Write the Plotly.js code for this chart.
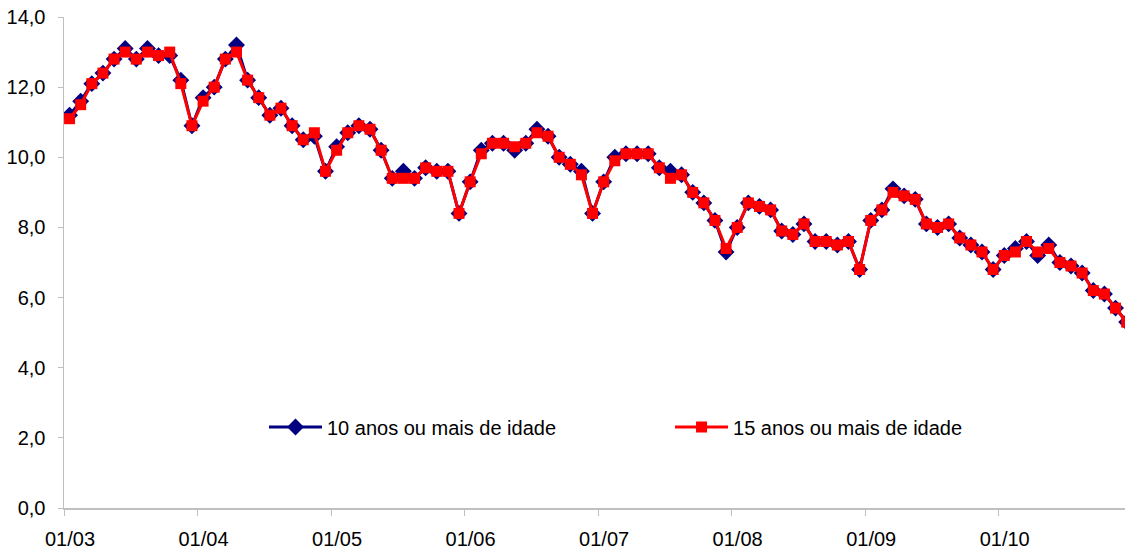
<!DOCTYPE html>
<html>
<head>
<meta charset="utf-8">
<script src="https://cdn.plot.ly/plotly-3.0.1.min.js"></script>
<style>
  html, body { margin: 0; padding: 0; background: #ffffff; }
  #chart { width: 1125px; height: 551px; }
</style>
</head>
<body>
<div id="chart"></div>
<script>
// Monthly series, Jan/2003 .. Dec/2010 (96 months)
const years = ['03', '04', '05', '06', '07', '08', '09', '10'];
const monthNums = ['01','02','03','04','05','06','07','08','09','10','11','12'];
const categories = [];
years.forEach(y => monthNums.forEach(m => categories.push(m + '/' + y)));

const tickLabels = ['01/03', '01/04', '01/05', '01/06', '01/07', '01/08', '01/09', '01/10'];

const series10 = [
  11.2, 11.6, 12.1, 12.4, 12.8, 13.1, 12.8, 13.1, 12.9, 12.9, 12.2, 10.9,
  11.7, 12.0, 12.8, 13.2, 12.2, 11.7, 11.2, 11.4, 10.9, 10.5, 10.6, 9.6,
  10.3, 10.7, 10.9, 10.8, 10.2, 9.4, 9.6, 9.4, 9.7, 9.6, 9.6, 8.4,
  9.3, 10.2, 10.4, 10.4, 10.2, 10.4, 10.8, 10.6, 10.0, 9.8, 9.6, 8.4,
  9.3, 10.0, 10.1, 10.1, 10.1, 9.7, 9.6, 9.5, 9.0, 8.7, 8.2, 7.3,
  8.0, 8.7, 8.6, 8.5, 7.9, 7.8, 8.1, 7.6, 7.6, 7.5, 7.6, 6.8,
  8.2, 8.5, 9.1, 8.9, 8.8, 8.1, 8.0, 8.1, 7.7, 7.5, 7.3, 6.8,
  7.2, 7.4, 7.6, 7.2, 7.5, 7.0, 6.9, 6.7, 6.2, 6.1, 5.7, 5.3
];

const series15 = [
  11.1, 11.5, 12.1, 12.4, 12.8, 13.0, 12.8, 13.0, 12.9, 13.0, 12.1, 10.9,
  11.6, 12.0, 12.8, 13.0, 12.2, 11.7, 11.2, 11.4, 10.9, 10.5, 10.7, 9.6,
  10.2, 10.7, 10.9, 10.8, 10.2, 9.4, 9.4, 9.4, 9.7, 9.6, 9.6, 8.4,
  9.3, 10.1, 10.4, 10.4, 10.3, 10.4, 10.7, 10.6, 10.0, 9.8, 9.5, 8.4,
  9.3, 9.9, 10.1, 10.1, 10.1, 9.7, 9.4, 9.5, 9.0, 8.7, 8.2, 7.4,
  8.0, 8.7, 8.6, 8.5, 7.9, 7.8, 8.1, 7.6, 7.6, 7.5, 7.6, 6.8,
  8.2, 8.5, 9.0, 8.9, 8.8, 8.1, 8.0, 8.1, 7.7, 7.5, 7.3, 6.8,
  7.2, 7.3, 7.6, 7.3, 7.4, 7.0, 6.9, 6.7, 6.2, 6.1, 5.7, 5.3
];

const names = ['10 anos ou mais de idade', '15 anos ou mais de idade'];

// Category bands: each month occupies one unit, point at band centre
const xPos = categories.map((_, i) => i + 0.5);
const tickPos = tickLabels.map((_, k) => k * 12);

const FONT = 'Liberation Sans, Arial, sans-serif';

const traces = [
  {
    x: xPos, y: series10, name: names[0], type: 'scatter', mode: 'lines+markers',
    text: categories, hoverinfo: 'text+y',
    line: { color: '#000080', width: 3 },
    marker: { symbol: 'diamond', size: 13, color: '#000080' },
    legend: 'legend'
  },
  {
    x: xPos, y: series15, name: names[1], type: 'scatter', mode: 'lines+markers',
    text: categories, hoverinfo: 'text+y',
    line: { color: '#FF0000', width: 3 },
    marker: { symbol: 'square', size: 11, color: '#FF0000' },
    legend: 'legend2'
  }
];

const layout = {
  width: 1125, height: 551,
  margin: { l: 64, r: 0, t: 17, b: 43, pad: 0 },
  paper_bgcolor: '#ffffff', plot_bgcolor: '#ffffff',
  separators: ', ',
  font: { family: FONT, size: 20, color: '#000000' },
  showlegend: true,
  xaxis: {
    range: [0, 95.35],
    tickmode: 'array', tickvals: tickPos, ticktext: tickLabels,
    ticks: 'outside', ticklen: 6, tickcolor: '#BFBFBF', tickwidth: 1,
    ticklabelshift: 6, ticklabelstandoff: 6,
    showline: true, linecolor: '#BFBFBF', linewidth: 1.5,
    showgrid: false, zeroline: false,
    tickfont: { family: FONT, size: 20, color: '#000000' }
  },
  yaxis: {
    range: [0, 14], dtick: 2, tick0: 0, tickformat: '.1f',
    ticks: 'outside', ticklen: 5, tickcolor: '#BFBFBF', tickwidth: 1,
    ticklabelstandoff: 8,
    showline: true, linecolor: '#BFBFBF', linewidth: 1.5,
    showgrid: false, zeroline: false,
    tickfont: { family: FONT, size: 20, color: '#000000' }
  },
  legend: {
    x: 0.1885, y: 0.1649, xanchor: 'left', yanchor: 'middle',
    itemwidth: 53,
    bgcolor: 'rgba(0,0,0,0)', borderwidth: 0,
    font: { family: FONT, size: 20, color: '#000000' }
  },
  legend2: {
    x: 0.5712, y: 0.1649, xanchor: 'left', yanchor: 'middle',
    itemwidth: 53,
    bgcolor: 'rgba(0,0,0,0)', borderwidth: 0,
    font: { family: FONT, size: 20, color: '#000000' }
  }
};

Plotly.newPlot('chart', traces, layout, { displayModeBar: false, staticPlot: true });
</script>
</body>
</html>
